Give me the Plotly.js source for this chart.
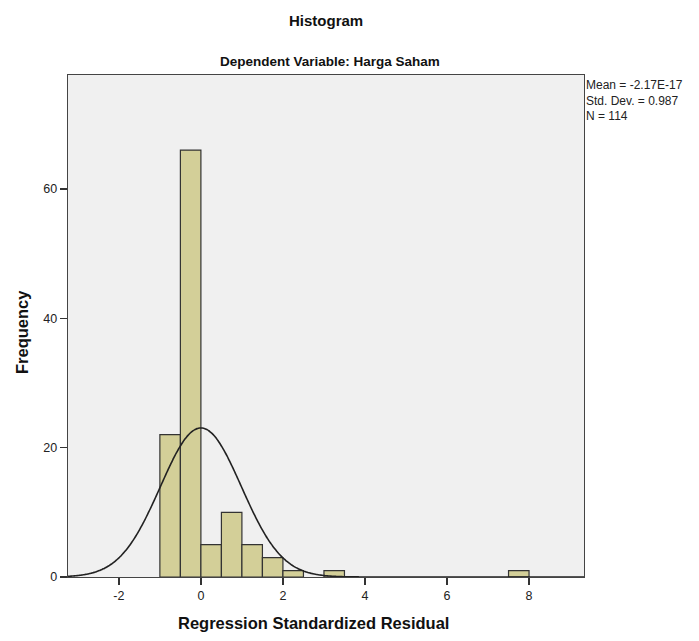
<!DOCTYPE html>
<html>
<head>
<meta charset="utf-8">
<script src="https://cdn.plot.ly/plotly-3.0.1.min.js"></script>
<style>body{margin:0;background:#fff;}#chart{width:699px;height:641px;}</style>
</head>
<body>
<div id="chart"></div>
<script>
// Histogram bins (lower edges) and frequencies
var binStarts = [-1.0, -0.5, 0.0, 0.5, 1.0, 1.5, 2.0, 3.0, 7.5];
var frequencies = [22, 66, 5, 10, 5, 3, 1, 1, 1];
var binWidth = 0.5;
// Reported statistics
var statMean = -2.17e-17;
var statSD = 0.987;
var statN = 114;
var statLines = ['Mean = -2.17E-17', 'Std. Dev. = 0.987', 'N = 114'];
var xTicks = [-2, 0, 2, 4, 6, 8];
var yTicks = [0, 20, 40, 60];

var centers = binStarts.map(function(s){ return s + binWidth/2; });

// Normal curve from reported mean / SD, scaled to counts
var cx = [], cy = [];
for (var i = 0; i <= 400; i++) {
  var x = -3.3 + i * (12.7 / 400);
  var z = (x - statMean) / statSD;
  cx.push(x);
  cy.push(statN * binWidth / (statSD * Math.sqrt(2 * Math.PI)) * Math.exp(-0.5 * z * z));
}

var font = "Liberation Sans, Arial, sans-serif";

var data = [
  {type: 'bar', x: centers, y: frequencies, width: binWidth,
   marker: {color: '#d3cf98', line: {color: '#333333', width: 1.2}},
   hoverinfo: 'x+y'},
  {type: 'scatter', mode: 'lines', x: cx, y: cy,
   line: {color: '#222222', width: 1.6, shape: 'spline'}, hoverinfo: 'skip'}
];

var annotations = [
  {text: '<b>Histogram</b>', xref: 'paper', yref: 'paper', x: 0.5, y: 1, yshift: 55,
   showarrow: false, font: {size: 15, color: '#111'}, xanchor: 'center', yanchor: 'middle'},
  {text: '<b>Dependent Variable: Harga Saham</b>', xref: 'paper', yref: 'paper', x: 0.5, y: 1,
   xshift: 4, yshift: 14,
   showarrow: false, font: {size: 13.5, color: '#111'}, xanchor: 'center', yanchor: 'middle'},
  {text: '<b>Regression Standardized Residual</b>', xref: 'paper', yref: 'paper', x: 0.5, y: 0,
   xshift: -13, yshift: -46,
   showarrow: false, font: {size: 16.5, color: '#111'}, xanchor: 'center', yanchor: 'middle'},
  {text: '<b>Frequency</b>', xref: 'paper', yref: 'paper', x: 0, y: 0.5, textangle: -90,
   xshift: -46, yshift: -6,
   showarrow: false, font: {size: 16.5, color: '#111'}, xanchor: 'center', yanchor: 'middle'},
  {text: statLines.join('<br>'), xref: 'paper', yref: 'paper', x: 1, xshift: 0, y: 1,
   yshift: -1, showarrow: false, align: 'left',
   xanchor: 'left', yanchor: 'top', font: {size: 12, color: '#222'}}
];

var layout = {
  width: 699, height: 641,
  margin: {l: 68, r: 115, t: 75, b: 64},
  paper_bgcolor: '#ffffff', plot_bgcolor: '#f0f0f0',
  showlegend: false,
  font: {family: font, color: '#222'},
  xaxis: {
    range: [-3.24, 9.34], tickvals: xTicks, ticktext: xTicks.map(String),
    ticks: 'outside', ticklen: 7, tickcolor: '#333', tickwidth: 1.3,
    showgrid: false, zeroline: false,
    showline: true, linecolor: '#444', linewidth: 1.3, mirror: true,
    tickfont: {size: 12.5, color: '#222'}
  },
  yaxis: {
    range: [0, 77.6], tickvals: yTicks, ticktext: yTicks.map(String),
    ticks: 'outside', ticklen: 7, tickcolor: '#333', tickwidth: 1.3,
    showgrid: false, zeroline: false,
    showline: true, linecolor: '#444', linewidth: 1.3, mirror: true,
    tickfont: {size: 12.5, color: '#222'}
  },
  annotations: annotations
};

Plotly.newPlot('chart', data, layout, {displayModeBar: false, staticPlot: true});
</script>
</body>
</html>
